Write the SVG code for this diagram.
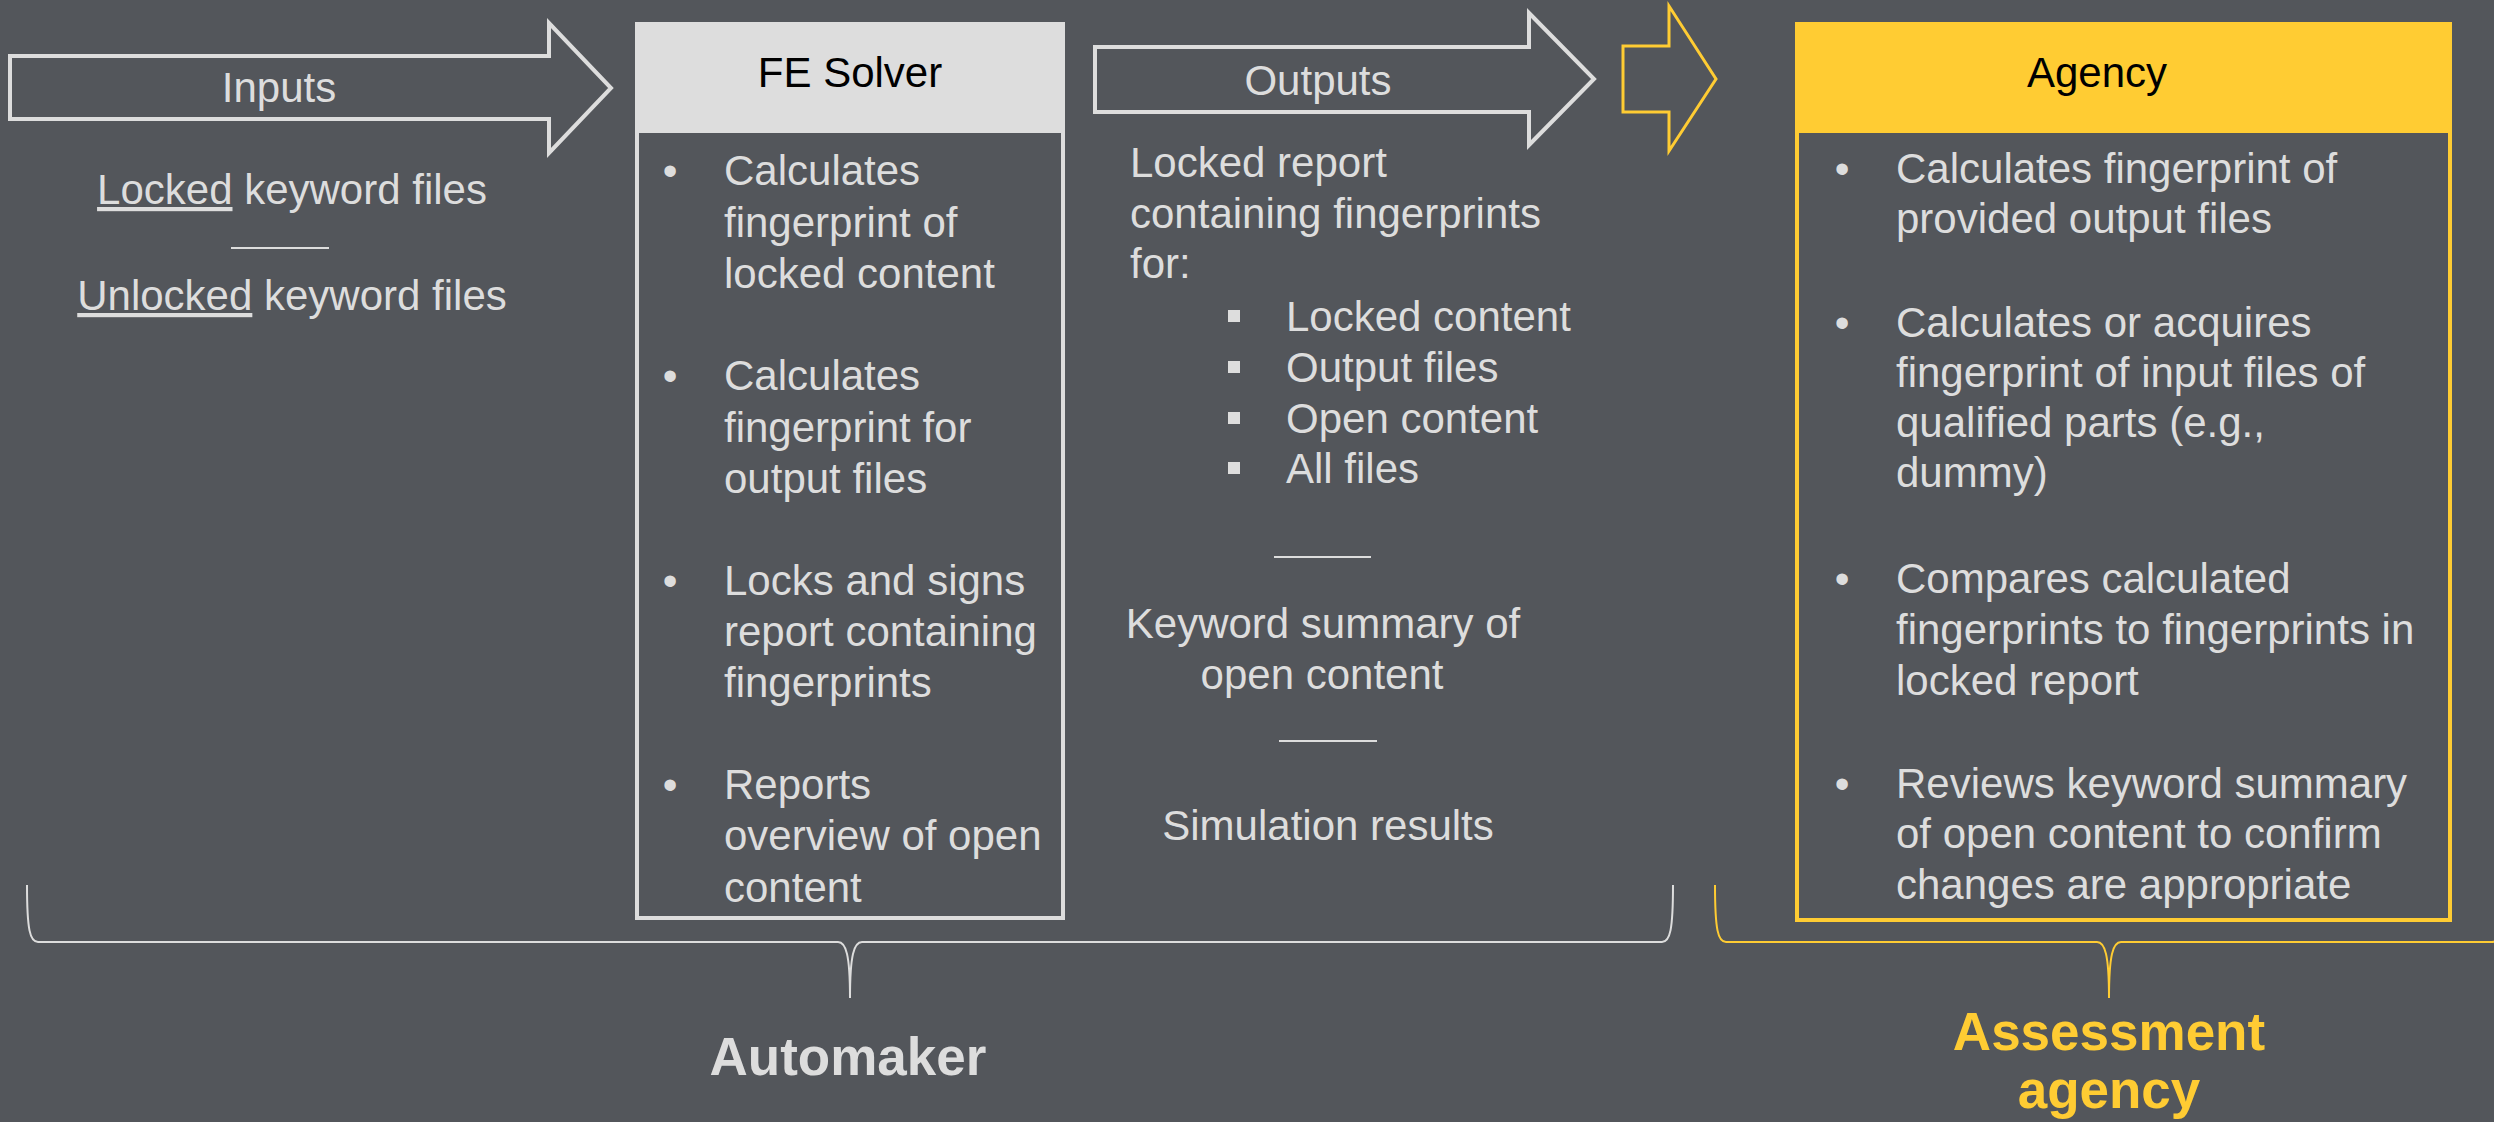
<svg xmlns="http://www.w3.org/2000/svg" width="2494" height="1122" viewBox="0 0 2494 1122">
<style>
  .t { font-family: "Liberation Sans", Arial, sans-serif; font-size: 42px; fill: #DDDDDD; }
  .c { text-anchor: middle; }
  .u { text-decoration: underline; }
  .hdr { font-family: "Liberation Sans", Arial, sans-serif; font-size: 42px; fill: #000000; text-anchor: middle; }
  .big { font-family: "Liberation Sans", Arial, sans-serif; font-size: 53px; font-weight: bold; text-anchor: middle; }
  .wline { stroke: #DDDDDD; stroke-width: 2; fill: none; }
  .yline { stroke: #FFCC33; stroke-width: 2; fill: none; }
  .warrow { fill: none; stroke: #DDDDDD; stroke-width: 4; stroke-linejoin: miter; }
  .sq { fill: #DDDDDD; }
</style>
<rect x="0" y="0" width="2494" height="1122" fill="#53565B"/>

<g id="inputs">
  <polygon class="warrow" points="10,56 549,56 549,23 611,88 549,153 549,119 10,119"/>
  <text class="t c" x="279" y="102">Inputs</text>
  <text class="t c" x="292" y="204"><tspan class="u">Locked</tspan> keyword files</text>
  <line class="wline" x1="231" y1="248" x2="329" y2="248"/>
  <text class="t c" x="292" y="310"><tspan class="u">Unlocked</tspan> keyword files</text>
</g>

<g id="fe-solver">
  <rect x="637" y="24" width="426" height="894" fill="none" stroke="#DDDDDD" stroke-width="4"/>
  <rect x="635" y="22" width="430" height="111" fill="#DDDDDD"/>
  <text class="hdr" x="850" y="87">FE Solver</text>
  <text class="t c" x="670" y="185">•</text>
  <text class="t" x="724" y="185">Calculates</text>
  <text class="t" x="724" y="237">fingerprint of</text>
  <text class="t" x="724" y="288">locked content</text>
  <text class="t c" x="670" y="390">•</text>
  <text class="t" x="724" y="390">Calculates</text>
  <text class="t" x="724" y="442">fingerprint for</text>
  <text class="t" x="724" y="493">output files</text>
  <text class="t c" x="670" y="595">•</text>
  <text class="t" x="724" y="595">Locks and signs</text>
  <text class="t" x="724" y="646">report containing</text>
  <text class="t" x="724" y="697">fingerprints</text>
  <text class="t c" x="670" y="799">•</text>
  <text class="t" x="724" y="799">Reports</text>
  <text class="t" x="724" y="850">overview of open</text>
  <text class="t" x="724" y="902">content</text>
</g>

<g id="outputs">
  <polygon class="warrow" points="1095,47 1529,47 1529,13 1594,79 1529,145 1529,112 1095,112"/>
  <text class="t c" x="1318" y="95">Outputs</text>
  <text class="t" x="1130" y="177">Locked report</text>
  <text class="t" x="1130" y="228">containing fingerprints</text>
  <text class="t" x="1130" y="278">for:</text>
  <rect class="sq" x="1228" y="310" width="12" height="12"/>
  <text class="t" x="1286" y="331">Locked content</text>
  <rect class="sq" x="1228" y="361" width="12" height="12"/>
  <text class="t" x="1286" y="382">Output files</text>
  <rect class="sq" x="1228" y="412" width="12" height="12"/>
  <text class="t" x="1286" y="433">Open content</text>
  <rect class="sq" x="1228" y="462" width="12" height="12"/>
  <text class="t" x="1286" y="483">All files</text>
  <line class="wline" x1="1274" y1="557" x2="1371" y2="557"/>
  <text class="t c" x="1323" y="638">Keyword summary of</text>
  <text class="t c" x="1322" y="689">open content</text>
  <line class="wline" x1="1279" y1="741" x2="1377" y2="741"/>
  <text class="t c" x="1328" y="840">Simulation results</text>
</g>

<g id="agency">
  <rect x="1797" y="24" width="653" height="896" fill="none" stroke="#FFCC33" stroke-width="4"/>
  <rect x="1795" y="22" width="657" height="111" fill="#FFCC33"/>
  <text class="hdr" x="2097" y="87">Agency</text>
  <text class="t c" x="1842" y="183">•</text>
  <text class="t" x="1896" y="183">Calculates fingerprint of</text>
  <text class="t" x="1896" y="233">provided output files</text>
  <text class="t c" x="1842" y="337">•</text>
  <text class="t" x="1896" y="337">Calculates or acquires</text>
  <text class="t" x="1896" y="387">fingerprint of input files of</text>
  <text class="t" x="1896" y="437">qualified parts (e.g.,</text>
  <text class="t" x="1896" y="487">dummy)</text>
  <text class="t c" x="1842" y="593">•</text>
  <text class="t" x="1896" y="593">Compares calculated</text>
  <text class="t" x="1896" y="644">fingerprints to fingerprints in</text>
  <text class="t" x="1896" y="695">locked report</text>
  <text class="t c" x="1842" y="798">•</text>
  <text class="t" x="1896" y="798">Reviews keyword summary</text>
  <text class="t" x="1896" y="848">of open content to confirm</text>
  <text class="t" x="1896" y="899">changes are appropriate</text>
</g>

<g id="automaker">
  <text class="big" x="848" y="1075" fill="#DDDDDD">Automaker</text>
</g>

<g id="assessment-agency">
  <text class="big" x="2109" y="1050" fill="#FFCC33">Assessment</text>
  <text class="big" x="2109" y="1108" fill="#FFCC33">agency</text>
</g>

<g id="connectors">
  <polygon points="1623,46 1669,46 1669,6 1716,79 1669,151 1669,112 1623,112" fill="none" stroke="#FFCC33" stroke-width="3"/>
  <path class="wline" d="M27,885 C27,930 30,942 38,942 L838,942 C846,942 850,955 850,998 C850,955 854,942 862,942 L1662,942 C1670,942 1673,930 1673,885"/>
  <path class="yline" d="M1715,885 C1715,930 1718,942 1726,942 L2097,942 C2105,942 2109,955 2109,998 C2109,955 2113,942 2121,942 L2492,942 C2500,942 2503,930 2503,885"/>
</g>
</svg>
